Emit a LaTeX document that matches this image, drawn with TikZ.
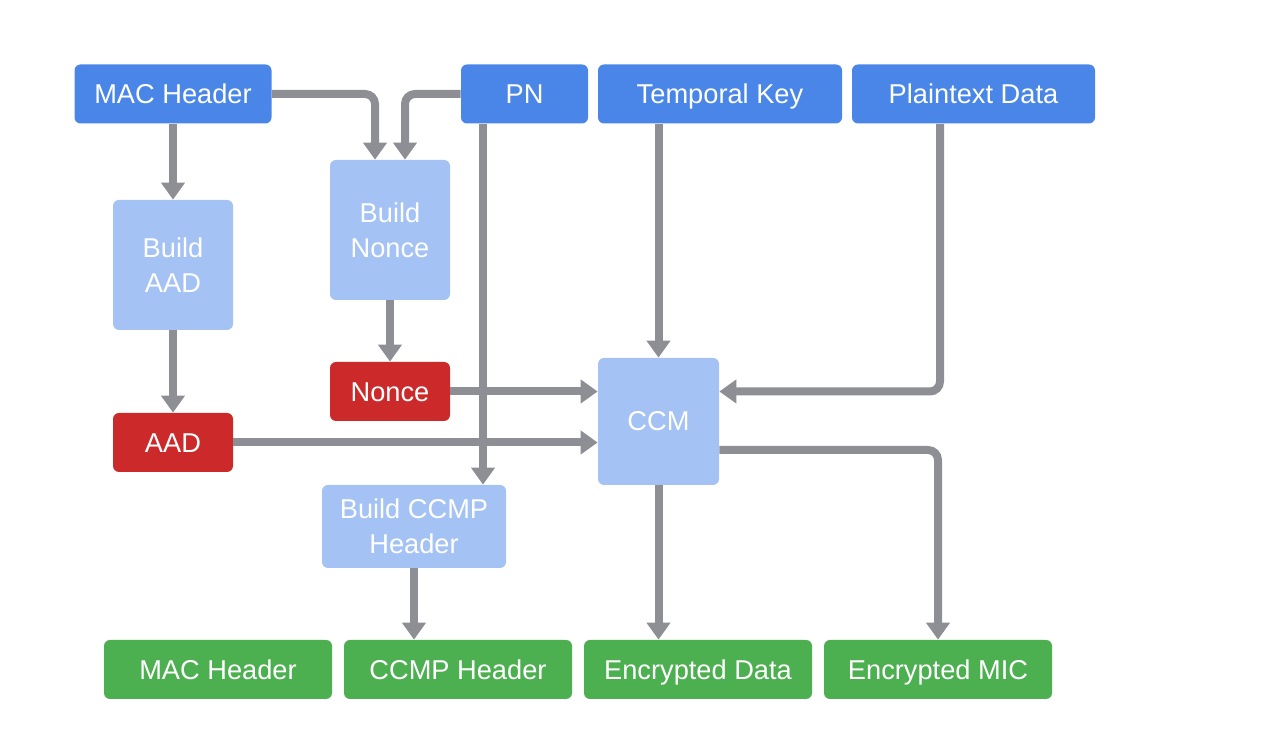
\documentclass[tikz,border=0pt]{standalone}
\usepackage{fontspec}
\setmainfont{Liberation Sans}
\usetikzlibrary{arrows.meta}
\definecolor{hdrblue}{HTML}{4A86E8}
\definecolor{stepblue}{HTML}{A4C2F4}
\definecolor{keyred}{HTML}{CC2A2A}
\definecolor{outgreen}{HTML}{4CAF50}
\definecolor{flowgray}{HTML}{8E8E95}
\begin{document}
\begin{tikzpicture}
            \tikzstyle{box} = [align=center, text=white, rounded corners=0.12cm, inner sep=0pt,
                               font=\fontsize{15.5}{20}\selectfont]
            \tikzstyle{oneline} = [text height=11.1pt, text depth=0pt]
            \tikzstyle{inbox} = [box, oneline, fill=hdrblue, minimum height=1.18cm]
            \tikzstyle{stepbox} = [box, fill=stepblue, minimum width=2.4cm]
            \tikzstyle{keybox} = [box, oneline, fill=keyred, minimum width=2.4cm, minimum height=1.18cm]
            \tikzstyle{outbox} = [box, oneline, fill=outgreen, minimum width=4.56cm, minimum height=1.18cm]
            \tikzstyle{flow} = [draw=flowgray, line width=0.16cm, rounded corners=0.2cm,
                                -{Triangle[width=0.46cm,length=0.34cm]}]

            \useasboundingbox (0,0) rectangle (25.6,14.64);

            \node[inbox, minimum width=3.94cm](machdr) at (3.46,12.76){MAC Header};
            \node[inbox, minimum width=2.54cm](pn) at (10.49,12.76){PN};
            \node[inbox, minimum width=4.88cm](tk) at (14.40,12.76){Temporal Key};
            \node[inbox, minimum width=4.86cm](plain) at (19.47,12.76){Plaintext Data};

            \node[stepbox, minimum height=2.6cm](baad) at (3.46,9.34){Build\\AAD};
            \node[stepbox, minimum height=2.8cm](bnonce) at (7.80,10.04){Build\\Nonce};
            \node[keybox](nonce) at (7.80,6.81){Nonce};
            \node[keybox](aad) at (3.46,5.79){AAD};
            \node[stepbox, minimum width=2.42cm, minimum height=2.54cm](ccm) at (13.17,6.21){CCM};
            \node[stepbox, minimum width=3.68cm, minimum height=1.66cm](bccmp) at (8.28,4.11){Build CCMP\\Header};

            \node[outbox](machdrout) at (4.36,1.25){MAC Header};
            \node[outbox](ccmphdr) at (9.16,1.25){CCMP Header};
            \node[outbox](encdata) at (13.96,1.25){Encrypted Data};
            \node[outbox](encmic) at (18.76,1.25){Encrypted MIC};

            \coordinate (pnout) at ([xshift=-0.83cm]pn.south);
            \coordinate (plainout) at ([xshift=-0.67cm]plain.south);

            \draw[flow] (machdr) -- (baad);
            \draw[flow] (baad) -- (aad);
            \draw[flow] (machdr.east) -| ([xshift=-0.3cm]bnonce.north);
            \draw[flow] (pn.west) -| ([xshift=0.3cm]bnonce.north);
            \draw[flow] (bnonce) -- (nonce);

            \draw[flow] (nonce.east) -- (nonce.east -| ccm.west);
            \draw[flow] (aad.east) -- (aad.east -| ccm.west);
            \draw[flow] (tk.south -| ccm.north) -- (ccm.north);
            \draw[flow] (plainout) |- (nonce.east -| ccm.east);

            \draw[flow] (pnout) -- (pnout |- bccmp.north);
            \draw[flow] (bccmp.south) -- (bccmp.south |- ccmphdr.north);
            \draw[flow] (ccm.south) -- (ccm.south |- encdata.north);
            \draw[flow] ([yshift=-0.57cm]ccm.east) -| (encmic.north);
      \end{tikzpicture}
\end{document}
